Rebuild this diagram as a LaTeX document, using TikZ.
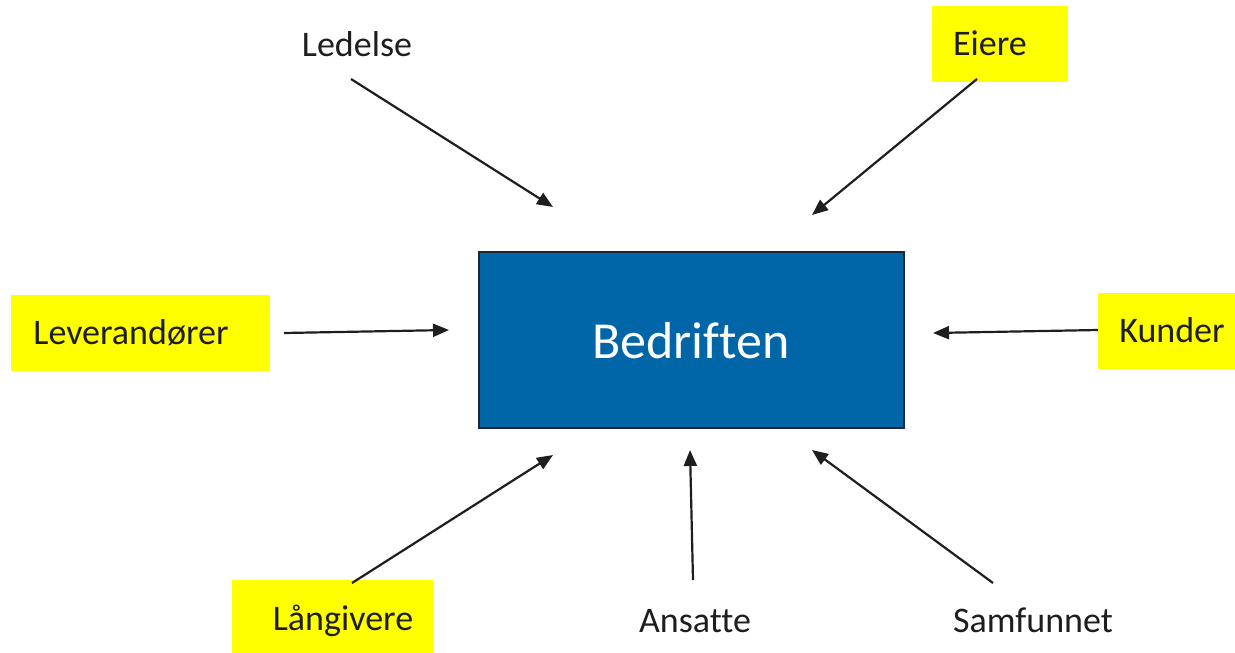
\documentclass[tikz,border=0pt]{standalone}
\usepackage{fontspec}
\setmainfont{Carlito}[Ligatures=NoCommon]
\usetikzlibrary{arrows.meta}
\definecolor{boxblue}{HTML}{0066A7}
\definecolor{boxedge}{HTML}{1C2733}
\definecolor{hl}{HTML}{FFFF00}
\definecolor{ink}{HTML}{1E1E1E}
\begin{document}
\begin{tikzpicture}[x=1pt,y=-1pt,
  lbl/.style={anchor=base, font=\fontsize{36}{40}\selectfont, text=ink, inner sep=0pt},
  ybox/.style={fill=hl, draw=none, anchor=north west, inner sep=0pt},
  arr/.style={-{Triangle[length=16pt,width=13pt]}, line width=2.2pt, draw=ink}]
\useasboundingbox (0,0) rectangle (1235,653);
% yellow highlight boxes
\node[ybox, minimum width=136pt, minimum height=76pt] (eierebox) at (932,6) {};
\node[ybox, minimum width=259pt, minimum height=76pt] (levbox) at (11,295) {};
\node[ybox, minimum width=137pt, minimum height=76pt] (kundebox) at (1098,293) {};
\node[ybox, minimum width=201pt, minimum height=73pt] (langbox) at (232,580) {};
% central box
\node[draw=boxedge, fill=boxblue, line width=2.2pt, minimum width=425pt, minimum height=176pt] (bedrift) at (691.5,340) {};
\node[anchor=base, inner sep=0pt, text=white, font=\fontsize{52}{60}\selectfont] (bedrifttxt) at (691,358) {Bedriften};
% labels
\node[lbl] (ledelse) at (357,56) {Ledelse};
\node[lbl] (eiere) at (990,55) {Eiere};
\node[lbl] (lev) at (131,344) {Leverandører};
\node[lbl] (kunder) at (1172,342) {Kunder};
\node[lbl] (lang) at (343,630) {Långivere};
\node[lbl] (ansatte) at (695,632) {Ansatte};
\node[lbl] (samf) at (1033,632) {Samfunnet};
% arrow end points
\coordinate (a1s) at (351,79);   \coordinate (a1e) at (553,207);
\coordinate (a2s) at (977,79);   \coordinate (a2e) at (812,215);
\coordinate (a3s) at (284,333);  \coordinate (a3e) at (449,330);
\coordinate (a4s) at (1098,330); \coordinate (a4e) at (933,333);
\coordinate (a5s) at (352,583);  \coordinate (a5e) at (553,455);
\coordinate (a6s) at (693,580);  \coordinate (a6e) at (690,450);
\coordinate (a7s) at (993,583);  \coordinate (a7e) at (812,450);
\draw[arr] (a1s) -- (a1e);
\draw[arr] (a2s) -- (a2e);
\draw[arr] (a3s) -- (a3e);
\draw[arr] (a4s) -- (a4e);
\draw[arr] (a5s) -- (a5e);
\draw[arr] (a6s) -- (a6e);
\draw[arr] (a7s) -- (a7e);
\end{tikzpicture}
\end{document}
